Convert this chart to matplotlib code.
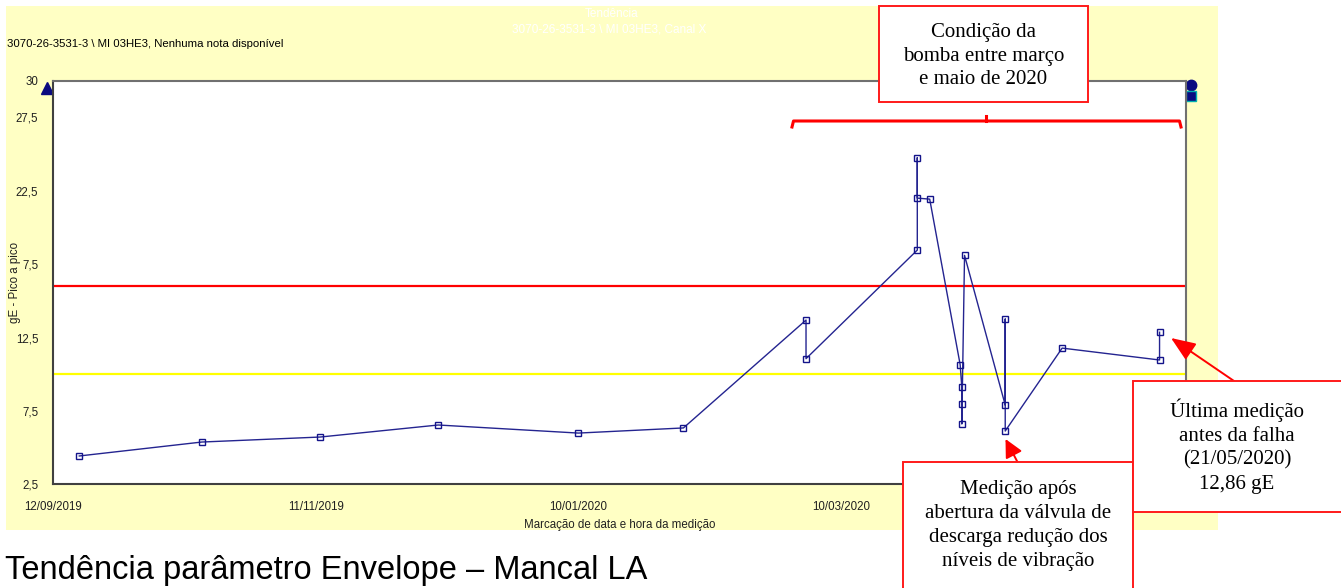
import matplotlib
matplotlib.use("Agg")
import matplotlib.pyplot as plt
import matplotlib.dates as mdates
from matplotlib import font_manager
from matplotlib.patches import Rectangle
from matplotlib.lines import Line2D
import pandas as pd

# measurement dates and gE peak-to-peak values
dates = ['2019-09-18 00:00', '2019-10-16 00:00', '2019-11-12 00:00', '2019-12-09 00:00',
         '2020-01-10 00:00', '2020-02-03 00:00', '2020-03-02 00:00', '2020-03-02 00:00',
         '2020-03-27 10:00', '2020-03-27 10:00', '2020-03-27 10:00', '2020-03-30 06:00',
         '2020-04-06 05:00', '2020-04-06 14:00', '2020-04-06 14:00',
         '2020-04-06 14:00', '2020-04-07 05:00', '2020-04-16 12:00',
         '2020-04-16 12:00', '2020-04-16 12:00', '2020-04-29 12:00',
         '2020-05-21 18:00', '2020-05-21 18:00']
values = [4.43, 5.38, 5.72, 6.54, 5.99, 6.34, 13.69, 11.06, 18.46, 24.75, 22.0,
          21.93, 10.65, 9.11, 7.95, 6.61, 18.1, 7.9, 13.76, 6.13, 11.78, 10.97, 12.86]

alarm_high = 16.0
alarm_low = 10.0

x_ticks = ['2019-09-12', '2019-11-11', '2020-01-10', '2020-03-10']
y_ticks = [2.5, 7.5, 12.5, 17.5, 22.5, 27.5, 30]
y_ticklabels = ['2,5', '7,5', '12,5', '7,5', '22,5', '27,5', '30']

W, H = 1341, 588
names = {f.name for f in font_manager.fontManager.ttflist}
narrow = 'Liberation Sans Narrow' in names
small_font = 'Liberation Sans Narrow' if narrow else 'Liberation Sans'
small_size = 10 if narrow else 8.3

def fx(x):
    return x / W

def fy(y):
    return 1 - y / H

fig = plt.figure(figsize=(W / 100, H / 100), dpi=100)
fig.patch.set_facecolor('white')

# yellow panel behind the chart
fig.patches.append(Rectangle((fx(6), fy(530)), fx(1218) - fx(6), fy(6) - fy(530),
                             transform=fig.transFigure, facecolor='#ffffc4',
                             edgecolor='none', zorder=-5))

ax = fig.add_axes([fx(53), fy(484.3), fx(1186) - fx(53), fy(80.7) - fy(484.3)])
ax.set_facecolor('white')

t = pd.to_datetime(dates, format='%Y-%m-%d %H:%M')
ax.plot(t, values, color='#242490', lw=1.0, marker='s', ms=4.2, mfc='none',
        mec='#14148a', mew=1.0, zorder=3)
ax.axhline(alarm_high, color='#ff0000', lw=1.6, zorder=2)
ax.axhline(alarm_low, color='#ffff00', lw=1.6, zorder=2)

ax.set_ylim(2.5, 30)
ax.set_xlim(pd.Timestamp('2019-09-12'), pd.Timestamp('2020-05-27 19:00'))
ax.set_yticks(y_ticks)
ax.set_yticklabels(y_ticklabels)
ax.set_xticks(pd.to_datetime(x_ticks))
ax.xaxis.set_major_formatter(mdates.DateFormatter('%d/%m/%Y'))
ax.tick_params(axis='both', length=0)
ax.tick_params(axis='y', pad=10.5)
ax.tick_params(axis='x', pad=12)
for lab in ax.get_xticklabels() + ax.get_yticklabels():
    lab.set_fontfamily(small_font)
    lab.set_fontsize(small_size)
    lab.set_color('#202020')

ax.set_xlabel('Marcação de data e hora da medição', fontfamily=small_font,
              fontsize=small_size, color='#202020')
ax.xaxis.set_label_coords(0.5, -0.085)
ax.set_ylabel('gE - Pico a pico', fontfamily=small_font, fontsize=small_size,
              color='#202020')
ax.yaxis.set_label_coords(-0.0285, 0.5)

for s in ax.spines.values():
    s.set_color('#707070')
    s.set_linewidth(1.5)
ax.spines['left'].set_color('#404040')
ax.spines['bottom'].set_color('#404040')

# small markers at the corners of the plot
ax.plot([-0.0053], [0.982], marker='^', ms=8, color='#0a0a80',
        transform=ax.transAxes, clip_on=False)
ax.plot([1.0044], [0.989], marker='o', ms=7.5, color='#0a0a80',
        transform=ax.transAxes, clip_on=False)
ax.plot([1.0044], [0.962], marker='s', ms=6.5, color='#0a0a80', mec='#00b0b0',
        mew=1, transform=ax.transAxes, clip_on=False)

# header texts
fig.text(fx(7), fy(44), '3070-26-3531-3 \\ MI 03HE3, Nenhuma nota disponível',
         family='Liberation Sans', fontsize=8.2, va='center', ha='left')
fig.text(fx(612), fy(14), 'Tendência', family='Liberation Sans', fontsize=8.5,
         color='white', ha='center', va='center')
fig.text(fx(609), fy(29), '3070-26-3531-3 \\ MI 03HE3, Canal X',
         family='Liberation Sans', fontsize=8.5, color='white', ha='center',
         va='center')

# bracket over the march-may period
br = dict(color='#ff0000', lw=2.2, transform=fig.transFigure, zorder=5)
fig.lines.append(Line2D([fx(792), fx(793.5), fx(1179.5), fx(1181)],
                        [fy(127), fy(121), fy(121), fy(127)], **br))
fig.lines.append(Line2D([fx(986), fx(986)], [fy(121), fy(115.5)], **br))

# annotation boxes
def box(x0, y0, x1, y1, text, cx, cy):
    fig.patches.append(Rectangle((fx(x0), fy(y1)), fx(x1) - fx(x0), fy(y0) - fy(y1),
                                 transform=fig.transFigure, facecolor='white',
                                 edgecolor='#ff1a1a', lw=1.4, zorder=6,
                                 clip_on=False))
    fig.text(fx(cx), fy(cy), text, family='Liberation Serif', fontsize=15,
             ha='center', va='center', linespacing=1.34, zorder=7)

box(879, 6, 1088, 102, 'Condição da\nbomba entre março\ne maio de 2020', 983.5, 56)
box(903, 462, 1133, 592, 'Medição após\nabertura da válvula de\ndescarga redução dos\nníveis de vibração', 1018, 525.5)
box(1133, 381, 1345, 512, 'Última medição\nantes da falha\n(21/05/2020)\n12,86 gE', 1237, 446)

# arrows pointing to the measurements
ax.annotate('', xy=(fx(1005.5), fy(439)), xycoords='figure fraction',
            xytext=(fx(1018), fy(463)), textcoords='figure fraction',
            arrowprops=dict(arrowstyle='-|>,head_length=1.1,head_width=0.55',
                            color='#ff0000', lw=1.4, shrinkA=0, shrinkB=0),
            annotation_clip=False, zorder=8)
ax.annotate('', xy=(fx(1171), fy(338)), xycoords='figure fraction',
            xytext=(fx(1234), fy(381)), textcoords='figure fraction',
            arrowprops=dict(arrowstyle='-|>,head_length=1.5,head_width=0.6',
                            color='#ff0000', lw=1.4, shrinkA=0, shrinkB=0),
            annotation_clip=False, zorder=8)

fig.text(fx(5), fy(570), 'Tendência parâmetro Envelope – Mancal LA',
         family='Liberation Sans', fontsize=23.5, ha='left', va='center')

fig.savefig('out.png', dpi=100)
